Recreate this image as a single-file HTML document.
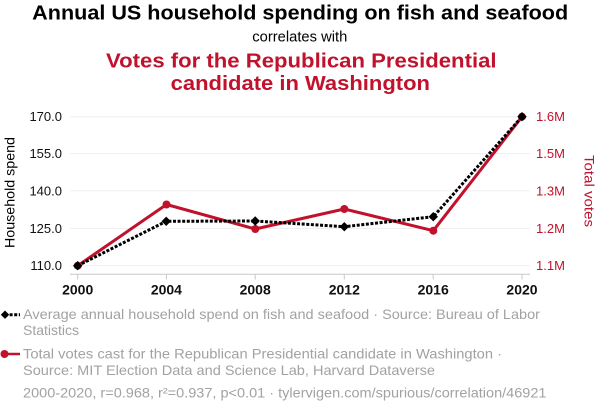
<!DOCTYPE html>
<html>
<head>
<meta charset="utf-8">
<style>
html,body{margin:0;padding:0;background:#fff;}
svg{display:block;}
text{font-family:"Liberation Sans",Arial,sans-serif;}
</style>
</head>
<body>
<svg width="600" height="414" viewBox="0 0 600 414" xmlns="http://www.w3.org/2000/svg">
  <rect width="600" height="414" fill="#fff"/>
  <!-- Titles -->
  <text x="300.2" y="19.5" font-size="20.5" font-weight="bold" fill="#000" text-anchor="middle" textLength="536" lengthAdjust="spacingAndGlyphs">Annual US household spending on fish and seafood</text>
  <text x="299.8" y="41.7" font-size="14.5" fill="#000" text-anchor="middle" textLength="95" lengthAdjust="spacingAndGlyphs">correlates with</text>
  <text x="301.3" y="67.7" font-size="20.5" font-weight="bold" fill="#c0122c" text-anchor="middle" textLength="390.5" lengthAdjust="spacingAndGlyphs">Votes for the Republican Presidential</text>
  <text x="300.3" y="90.2" font-size="20.5" font-weight="bold" fill="#c0122c" text-anchor="middle" textLength="259.3" lengthAdjust="spacingAndGlyphs">candidate in Washington</text>

  <!-- Gridlines -->
  <g stroke="#efefef" stroke-width="1">
    <line x1="70" y1="116.7" x2="530" y2="116.7"/>
    <line x1="70" y1="153.5" x2="530" y2="153.5"/>
    <line x1="70" y1="190.8" x2="530" y2="190.8"/>
    <line x1="70" y1="228.5" x2="530" y2="228.5"/>
    <line x1="70" y1="265.7" x2="530" y2="265.7"/>
  </g>
  <!-- X axis -->
  <g stroke="#c8c8c8" stroke-width="1">
    <line x1="70" y1="274.3" x2="530" y2="274.3"/>
    <line x1="77.7" y1="274.3" x2="77.7" y2="279.5"/>
    <line x1="166.4" y1="274.3" x2="166.4" y2="279.5"/>
    <line x1="255.2" y1="274.3" x2="255.2" y2="279.5"/>
    <line x1="344.3" y1="274.3" x2="344.3" y2="279.5"/>
    <line x1="433.2" y1="274.3" x2="433.2" y2="279.5"/>
    <line x1="522" y1="274.3" x2="522" y2="279.5"/>
  </g>
  <g font-size="14" font-weight="bold" fill="#111" text-anchor="middle">
    <text x="77.7" y="294.3">2000</text>
    <text x="166.4" y="294.3">2004</text>
    <text x="255.2" y="294.3">2008</text>
    <text x="344.3" y="294.3">2012</text>
    <text x="433.2" y="294.3">2016</text>
    <text x="522" y="294.3">2020</text>
  </g>
  <!-- Left axis labels -->
  <g font-size="13" fill="#111" text-anchor="end">
    <text x="62" y="121.2">170.0</text>
    <text x="62" y="158">155.0</text>
    <text x="62" y="195.3">140.0</text>
    <text x="62" y="233">125.0</text>
    <text x="62" y="270.2">110.0</text>
  </g>
  <!-- Right axis labels -->
  <g font-size="13" fill="#c0122c" text-anchor="start">
    <text x="536" y="121.2">1.6M</text>
    <text x="536" y="158">1.5M</text>
    <text x="536" y="195.3">1.3M</text>
    <text x="536" y="233">1.2M</text>
    <text x="536" y="270.2">1.1M</text>
  </g>
  <!-- Axis titles -->
  <text transform="translate(14.5,192.5) rotate(-90)" font-size="14" fill="#000" text-anchor="middle" textLength="111" lengthAdjust="spacingAndGlyphs">Household spend</text>
  <text transform="translate(584.5,191) rotate(90)" font-size="14" fill="#c0122c" text-anchor="middle" textLength="72" lengthAdjust="spacingAndGlyphs">Total votes</text>

  <!-- Red series -->
  <polyline fill="none" stroke="#c0122c" stroke-width="3" stroke-linejoin="round"
    points="77.7,265.7 166.5,204.5 255.3,229 344.3,209 433.3,230.7 522,116.7"/>
  <g fill="#c0122c">
    <circle cx="77.7" cy="265.7" r="4"/>
    <circle cx="166.5" cy="204.5" r="4"/>
    <circle cx="255.3" cy="229" r="4"/>
    <circle cx="344.3" cy="209" r="4"/>
    <circle cx="433.3" cy="230.7" r="4"/>
    <circle cx="522" cy="116.7" r="4"/>
  </g>
  <!-- Black series -->
  <polyline fill="none" stroke="#000" stroke-width="3" stroke-dasharray="3 1.6"
    points="77.7,265.7 166.2,221.3 255.2,221 344.3,226.7 433.3,216.7 522,116.7"/>
  <g fill="#000">
    <polygon points="77.7,261 82.4,265.7 77.7,270.4 73,265.7"/>
    <polygon points="166.2,216.6 170.9,221.3 166.2,226 161.5,221.3"/>
    <polygon points="255.2,216.3 259.9,221 255.2,225.7 250.5,221"/>
    <polygon points="344.3,222 349,226.7 344.3,231.4 339.6,226.7"/>
    <polygon points="433.3,212 438,216.7 433.3,221.4 428.6,216.7"/>
    <polygon points="522,112 526.7,116.7 522,121.4 517.3,116.7"/>
  </g>

  <!-- Legend -->
  <line x1="5" y1="314.7" x2="20" y2="314.7" stroke="#000" stroke-width="3" stroke-dasharray="3 1.6"/>
  <polygon points="5,310.5 9.2,314.7 5,318.9 0.8,314.7" fill="#000"/>
  <g font-size="14" fill="#a2a2a2">
    <text x="23" y="319" textLength="517" lengthAdjust="spacingAndGlyphs">Average annual household spend on fish and seafood · Source: Bureau of Labor</text>
    <text x="23" y="335">Statistics</text>
    <text x="23" y="358.7" textLength="479" lengthAdjust="spacingAndGlyphs">Total votes cast for the Republican Presidential candidate in Washington ·</text>
    <text x="23" y="375" textLength="412" lengthAdjust="spacingAndGlyphs">Source: MIT Election Data and Science Lab, Harvard Dataverse</text>
    <text x="23" y="397.3" textLength="523.5" lengthAdjust="spacingAndGlyphs">2000-2020, r=0.968, r²=0.937, p&lt;0.01 · tylervigen.com/spurious/correlation/46921</text>
  </g>
  <line x1="4" y1="354" x2="20" y2="354" stroke="#c0122c" stroke-width="2.5"/>
  <circle cx="4.5" cy="354" r="4" fill="#c0122c"/>
</svg>
</body>
</html>
